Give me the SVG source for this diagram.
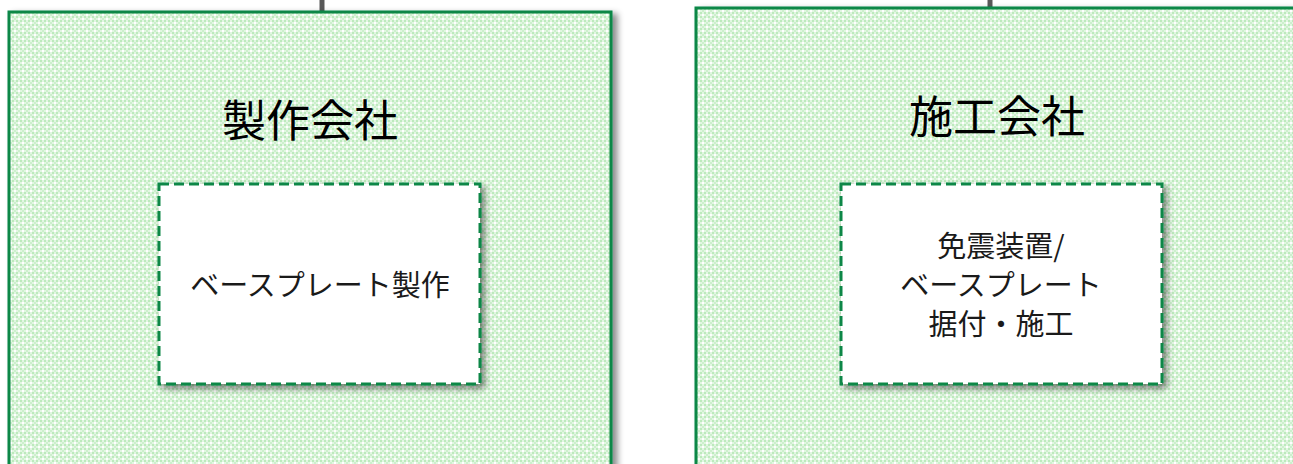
<svg xmlns="http://www.w3.org/2000/svg" width="1293" height="464" viewBox="0 0 1293 464">
  <defs>
    <pattern id="chk" width="8" height="8" patternUnits="userSpaceOnUse">
      <rect width="8" height="8" fill="#e2f6e2"/>
      <rect x="0" y="0" width="2" height="2" fill="#bdeabd"/>
      <rect x="4" y="0" width="2" height="2" fill="#bdeabd"/>
      <rect x="2" y="2" width="2" height="2" fill="#ffffff"/>
      <rect x="6" y="2" width="2" height="2" fill="#cdf0cd"/>
      <rect x="0" y="4" width="2" height="2" fill="#bdeabd"/>
      <rect x="4" y="4" width="2" height="2" fill="#bdeabd"/>
      <rect x="2" y="6" width="2" height="2" fill="#cdf0cd"/>
      <rect x="6" y="6" width="2" height="2" fill="#ffffff"/>
    </pattern>
    <filter id="sh" x="-10%" y="-10%" width="130%" height="130%">
      <feDropShadow dx="4" dy="4" stdDeviation="3" flood-color="#000" flood-opacity="0.45"/>
    </filter>
    <filter id="sh2" x="-10%" y="-10%" width="130%" height="130%">
      <feDropShadow dx="5" dy="3" stdDeviation="3" flood-color="#000" flood-opacity="0.45"/>
    </filter>
  </defs>
  <style>
    .outer { fill: url(#chk); stroke: #0d8746; stroke-width: 3; }
    .inner { fill: #ffffff; stroke: #0d8746; stroke-width: 3; stroke-dasharray: 10 5; }
    .title { font-family: "Noto Sans CJK JP", sans-serif; font-size: 44px; fill: #000; text-anchor: middle; }
    .label { font-family: "Noto Sans CJK JP", sans-serif; font-size: 29px; font-weight: 400; fill: #1a1a1a; text-anchor: middle; }
    .conn { stroke: #585858; stroke-width: 5; fill: none; }
  </style>
  <rect width="1293" height="464" fill="#ffffff"/>
  <g id="connectors">
    <line class="conn" x1="322" y1="0" x2="322" y2="12"/>
    <line class="conn" x1="990" y1="0" x2="990" y2="8"/>
  </g>
  <g id="node-seisaku">
    <rect class="outer" x="9" y="12" width="602" height="470" filter="url(#sh2)"/>
    <text class="title" x="310" y="137">製作会社</text>
  </g>
  <g id="node-seisaku-task">
    <rect class="inner" x="159" y="184" width="321" height="200" filter="url(#sh)"/>
    <text class="label" x="320" y="296">ベースプレート製作</text>
  </g>
  <g id="node-sekou">
    <rect class="outer" x="696" y="8" width="620" height="470" filter="url(#sh2)"/>
    <text class="title" x="997" y="133">施工会社</text>
  </g>
  <g id="node-sekou-task">
    <rect class="inner" x="841" y="184" width="321" height="200" filter="url(#sh)"/>
    <text class="label" x="1001" y="257">免震装置/</text>
    <text class="label" x="1001" y="296">ベースプレート</text>
    <text class="label" x="1001" y="335">据付・施工</text>
  </g>
</svg>
